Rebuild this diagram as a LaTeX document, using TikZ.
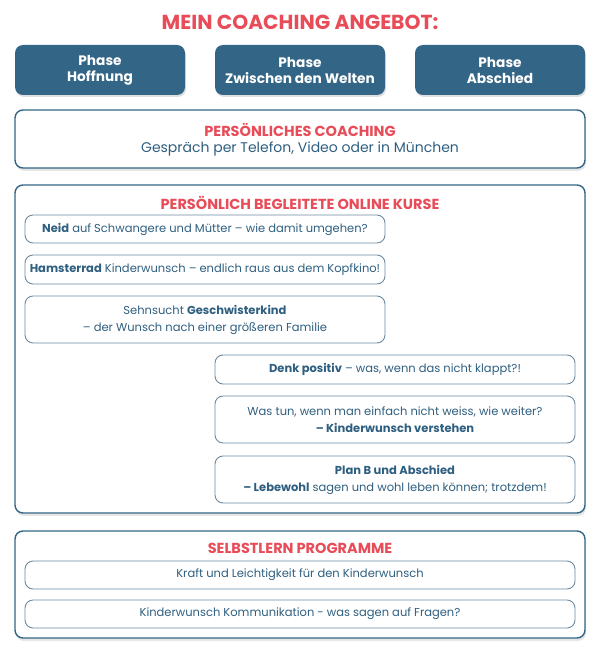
\documentclass[tikz,border=0pt]{standalone}
\usepackage{fontspec}
\setmainfont{Poppins}
\usetikzlibrary{shadows}
\definecolor{phaseblue}{HTML}{336586}
\definecolor{textblue}{HTML}{2F5F80}
\definecolor{lineblue}{HTML}{6E8AA0}
\definecolor{titlered}{HTML}{E84C59}
\tikzset{
  phasebox/.style={draw=none, fill=phaseblue, rounded corners=8pt, minimum width=170pt, minimum height=50pt,
    align=center, text=white, font=\fontsize{13.7}{16}\selectfont\bfseries,
    drop shadow={opacity=0.25, shadow xshift=1pt, shadow yshift=-2pt}},
  groupbox/.style={draw=phaseblue, line width=1.4pt, fill=white, rounded corners=8pt,
    drop shadow={opacity=0.2, shadow xshift=1pt, shadow yshift=-3pt}},
  coursebox/.style={draw=lineblue, line width=0.9pt, fill=white, rounded corners=8pt, align=center,
    text=textblue, font=\fontsize{11.5}{17}\selectfont, inner sep=0pt},
  headline/.style={text=titlered, font=\fontsize{14.5}{16}\selectfont\bfseries},
}
\begin{document}
\begin{tikzpicture}[x=1pt, y=-1pt]
\useasboundingbox (0,0) rectangle (600,655);
\node[text=titlered, font=\fontsize{20.3}{23}\selectfont\bfseries] (title) at (300,22) {MEIN COACHING ANGEBOT:};
% phases
\node[phasebox] (hoffnung) at (100,70) {Phase\\Hoffnung};
\node[phasebox] (welten) at (300,70) {Phase\\Zwischen den Welten};
\node[phasebox] (abschied) at (500,70) {Phase\\Abschied};
% persoenliches coaching
\node[groupbox, minimum width=570pt, minimum height=58pt] (coaching) at (300,139) {};
\node[headline] (coachtitle) at (300,130) {PERSÖNLICHES COACHING};
\node[text=textblue, font=\fontsize{14}{16}\selectfont] (coachtext) at (300,149) {Gespräch per Telefon, Video oder in München};
% online kurse
\node[groupbox, minimum width=570pt, minimum height=328pt] (kurse) at (300,349) {};
\node[headline] (kursetitle) at (300,203) {PERSÖNLICH BEGLEITETE ONLINE KURSE};
\node[coursebox, minimum width=360pt, minimum height=28pt] (neid) at (205,229) {\textbf{Neid} auf Schwangere und Mütter – wie damit umgehen?};
\node[coursebox, minimum width=360pt, minimum height=29pt] (hamster) at (205,269.5) {\textbf{Hamsterrad} Kinderwunsch – endlich raus aus dem Kopfkino!};
\node[coursebox, minimum width=360pt, minimum height=47pt] (geschwister) at (205,319.5) {Sehnsucht \textbf{Geschwisterkind}\\– der Wunsch nach einer größeren Familie};
\node[coursebox, minimum width=360pt, minimum height=29pt] (denk) at (395,369.5) {\textbf{Denk positiv} – was, wenn das nicht klappt?!};
\node[coursebox, minimum width=360pt, minimum height=47pt] (verstehen) at (395,419.5) {Was tun, wenn man einfach nicht weiss, wie weiter?\\\textbf{– Kinderwunsch verstehen}};
\node[coursebox, minimum width=360pt, minimum height=47pt] (planb) at (395,479.5) {\textbf{Plan B und Abschied}\\\textbf{– Lebewohl} sagen und wohl leben können; trotzdem!};
% selbstlern
\node[groupbox, minimum width=570pt, minimum height=107pt] (selbst) at (300,584.5) {};
\node[headline] (selbsttitle) at (300,548) {SELBSTLERN PROGRAMME};
\node[coursebox, minimum width=550pt, minimum height=28pt] (kraft) at (300,575) {Kraft und Leichtigkeit für den Kinderwunsch};
\node[coursebox, minimum width=550pt, minimum height=28pt] (komm) at (300,614) {Kinderwunsch Kommunikation - was sagen auf Fragen?};
\end{tikzpicture}
\end{document}
